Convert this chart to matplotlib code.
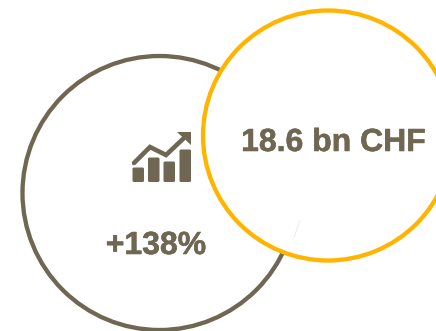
import matplotlib.pyplot as plt
import matplotlib.patheffects as pe
from matplotlib.patches import Circle, Polygon, FancyBboxPatch

BROWN = '#6f6751'
YELLOW = '#ffb400'

change_label = '+138%'
volume_label = '18.6 bn CHF'

# icon bars: left edge, top, in pixels of the canvas
bar_lefts = [132.5, 148, 163.5, 179.5]
bar_tops = [167.5, 157.5, 161.5, 149.5]
trend_x = [134, 150, 166, 184]
trend_y = [163, 147, 155, 138]
arrow_x = [177, 190.5, 190.5]
arrow_y = [132, 132, 145]

fig = plt.figure(figsize=(4.36, 3.31), dpi=100)
ax = fig.add_axes([0, 0, 1, 1])
ax.set_xlim(0, 436)
ax.set_ylim(331, 0)
ax.axis('off')

ax.add_patch(Circle((159.5, 193), 137, fc='white', ec=BROWN, lw=3.1, zorder=1))
ax.plot([299.5, 290], [221, 250], color='#e4e4e4', lw=0.7, zorder=1.5)
ax.add_patch(Circle((328, 135.5), 125, fc='white', ec=YELLOW, lw=3.1, zorder=2))
ax.plot([299.5, 294], [221, 238], color='#ececec', lw=0.7, zorder=2.5)

# trend icon
for left, top in zip(bar_lefts, bar_tops):
    ax.add_patch(FancyBboxPatch((left + 1.5, top + 1.5), 8.5, 182 - top - 3,
                                boxstyle='round,pad=1.5', fc=BROWN, ec='none', zorder=3))
ax.plot(trend_x, trend_y, color=BROWN, lw=3.3, solid_capstyle='round',
        solid_joinstyle='miter', zorder=3)
ax.add_patch(Polygon(list(zip(arrow_x, arrow_y)), closed=True, fc=BROWN, ec='none', zorder=3))

font = dict(family='Liberation Sans', weight='bold', size=23, color=BROWN, zorder=4,
            path_effects=[pe.withStroke(linewidth=0.4, foreground=BROWN)])
ax.text(156, 246, change_label, ha='center', va='center', **font)
ax.text(333.5, 143, volume_label, ha='center', va='center', **font)

fig.savefig('out.png', dpi=100)
